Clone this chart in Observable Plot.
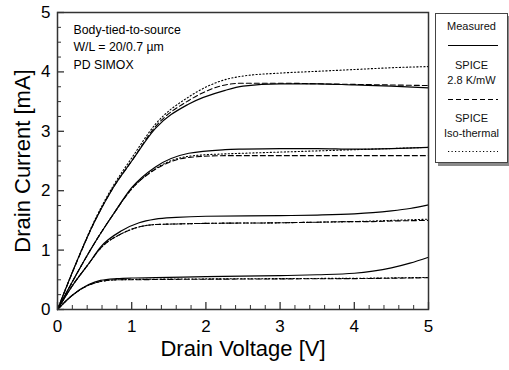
<!DOCTYPE html>
<html><head><meta charset="utf-8">
<script src="https://cdn.jsdelivr.net/npm/d3@7"></script>
<script src="https://cdn.jsdelivr.net/npm/@observablehq/plot@0.6"></script>
<style>
html,body{margin:0;padding:0;background:#fff;}
#wrap{position:relative;width:509px;height:370px;font-family:"Liberation Sans",Arial,sans-serif;}
#legend{position:absolute;left:435px;top:13px;width:71px;height:148px;border:1px solid #444;background:#fff;box-shadow:3px 3px 0 #8a8a8a;font-size:11px;text-align:center;color:#111;}
#legend div{position:absolute;left:0;width:100%;line-height:15px;}
#legend svg{position:absolute;left:12px;}
</style></head>
<body><div id="wrap"></div>
<script>
// tick labels
const xTicks = [0, 1, 2, 3, 4, 5];
const xMinorTicks = [0.2, 0.4, 0.6, 0.8, 1.2, 1.4, 1.6, 1.8, 2.2, 2.4, 2.6, 2.8, 3.2, 3.4, 3.6, 3.8, 4.2, 4.4, 4.6, 4.8];
const yTicks = [0, 1, 2, 3, 4, 5];
const yMinorTicks = [0.25, 0.5, 0.75, 1.25, 1.5, 1.75, 2.25, 2.5, 2.75, 3.25, 3.5, 3.75, 4.25, 4.5, 4.75];
const annotation = ["Body-tied-to-source", "W/L = 20/0.7 \u00b5m", "PD SIMOX"];
const seriesNames = ["Measured", "SPICE 2.8 K/mW", "SPICE Iso-thermal"];

// curve 1 (highest gate voltage)
const v1 = [0, 0.25, 0.5, 0.75, 1, 1.32, 1.77, 2.26, 2.5, 3, 3.5, 4, 4.5, 5];
const meas1 = [0, 0.78, 1.48, 2.05, 2.5, 3.05, 3.46, 3.69, 3.76, 3.80, 3.80, 3.78, 3.76, 3.73];
const hot1 = [0, 0.77, 1.48, 2.05, 2.5, 3.08, 3.52, 3.78, 3.81, 3.81, 3.80, 3.79, 3.78, 3.77];
const iso1 = [0, 0.78, 1.50, 2.08, 2.55, 3.12, 3.58, 3.87, 3.93, 3.98, 4.01, 4.04, 4.07, 4.09];
// curve 2
const v2 = [0, 0.25, 0.5, 0.75, 1, 1.32, 1.77, 2.26, 2.5, 3, 3.5, 4, 4.5, 5];
const meas2 = [0, 0.58, 1.12, 1.6, 2.05, 2.4, 2.63, 2.69, 2.70, 2.71, 2.71, 2.70, 2.71, 2.73];
const hot2 = [0, 0.58, 1.12, 1.6, 2.03, 2.36, 2.56, 2.59, 2.59, 2.59, 2.59, 2.59, 2.59, 2.59];
const iso2 = [0, 0.58, 1.12, 1.6, 2.03, 2.37, 2.58, 2.62, 2.63, 2.65, 2.67, 2.69, 2.71, 2.73];
// curve 3
const v3 = [0, 0.2, 0.42, 0.58, 0.87, 1.1, 1.32, 1.6, 2, 3, 3.5, 4, 4.25, 4.5, 4.75, 5];
const meas3 = [0, 0.4, 0.77, 1.05, 1.33, 1.46, 1.52, 1.55, 1.57, 1.58, 1.59, 1.61, 1.63, 1.66, 1.70, 1.76];
const hot3 = [0, 0.4, 0.77, 1.03, 1.28, 1.39, 1.43, 1.44, 1.45, 1.46, 1.47, 1.48, 1.48, 1.49, 1.495, 1.50];
const iso3 = [0, 0.4, 0.77, 1.03, 1.28, 1.39, 1.43, 1.44, 1.45, 1.46, 1.47, 1.48, 1.49, 1.50, 1.51, 1.52];
// curve 4 (lowest gate voltage)
const v4 = [0, 0.2, 0.42, 0.58, 0.8, 1, 1.32, 2, 3, 3.5, 4, 4.25, 4.5, 4.75, 5];
const meas4 = [0, 0.24, 0.42, 0.49, 0.52, 0.53, 0.535, 0.555, 0.57, 0.585, 0.61, 0.645, 0.70, 0.78, 0.88];
const hot4 = [0, 0.24, 0.41, 0.47, 0.5, 0.5, 0.505, 0.51, 0.515, 0.518, 0.52, 0.523, 0.527, 0.531, 0.535];
const iso4 = [0, 0.24, 0.41, 0.47, 0.5, 0.505, 0.51, 0.515, 0.52, 0.523, 0.525, 0.528, 0.532, 0.536, 0.54];

const curves = [
  [v1, meas1, hot1, iso1], [v2, meas2, hot2, iso2], [v3, meas3, hot3, iso3], [v4, meas4, hot4, iso4]
];
const rows = [];
curves.forEach(([v, m, h, s], ci) => {
  [m, h, s].forEach((arr, si) => {
    arr.forEach((y, i) => rows.push({curve: ci, series: seriesNames[si], key: ci + "-" + si, x: v[i], y}));
  });
});
const dashes = {"Measured": null, "SPICE 2.8 K/mW": "5,3", "SPICE Iso-thermal": "1.2,2.3"};

const lineMarks = seriesNames.map(name => Plot.line(rows.filter(d => d.series === name), {
  x: "x", y: "y", z: "key", curve: "monotone-x", stroke: "#000",
  strokeWidth: name === "Measured" ? 1.2 : 1.1,
  strokeDasharray: dashes[name]
}));

const fmt = d => String(d);
const chart = Plot.plot({
  width: 509, height: 370,
  marginLeft: 57, marginRight: 81, marginTop: 12, marginBottom: 61,
  style: {fontFamily: "'Liberation Sans', Arial, sans-serif", fontSize: "17px", background: "#fff", color: "#000"},
  x: {domain: [0, 5]},
  y: {domain: [0, 5]},
  marks: [
    ...lineMarks,
    Plot.frame({stroke: "#333", strokeWidth: 1.5}),
    Plot.axisX({ticks: xMinorTicks, tickSize: -4, text: null, label: null, stroke: "#333"}),
    Plot.axisX({ticks: xTicks, tickSize: -7, text: null, label: null, stroke: "#333", strokeWidth: 1.3}),
    Plot.axisX({ticks: xTicks, tickSize: 0, tickPadding: 10, tickFormat: fmt, label: null, fontSize: 17}),
    Plot.axisY({ticks: yMinorTicks, tickSize: -4, text: null, label: null, stroke: "#333"}),
    Plot.axisY({ticks: yTicks, tickSize: -7, text: null, label: null, stroke: "#333", strokeWidth: 1.3}),
    Plot.axisY({ticks: yTicks, tickSize: 0, tickPadding: 7, tickFormat: fmt, label: null, fontSize: 17}),
    Plot.text(["Drain Voltage [V]"], {frameAnchor: "bottom", dy: 46, textAnchor: "middle", fontSize: 22, text: d => d}),
    Plot.text(["Drain Current [mA]"], {frameAnchor: "left", dx: -35, rotate: -90, textAnchor: "middle", fontSize: 22, text: d => d}),
    Plot.text([annotation.join("\n")], {frameAnchor: "top-left", dx: 16, dy: 9, lineAnchor: "top", textAnchor: "start", lineHeight: 1.42, fontSize: 12.3, text: d => d})
  ]
});
const wrap = document.getElementById("wrap");
wrap.appendChild(chart);

// legend
const legend = document.createElement("div");
legend.id = "legend";
const legendItems = [
  {lines: ["Measured"], top: 5, lineTop: 30, dash: null},
  {lines: ["SPICE", "2.8 K/mW"], top: 44, lineTop: 84, dash: "5,3"},
  {lines: ["SPICE", "Iso-thermal"], top: 97, lineTop: 136, dash: "1.2,2.3"}
];
legendItems.forEach(it => {
  const t = document.createElement("div");
  t.style.top = it.top + "px";
  t.innerHTML = it.lines.join("<br>");
  legend.appendChild(t);
  const svg = d3.create("svg").attr("width", 50).attr("height", 3).style("top", it.lineTop + "px");
  svg.append("line").attr("x1", 0).attr("x2", 50).attr("y1", 1.5).attr("y2", 1.5)
    .attr("stroke", "#000").attr("stroke-width", 1.1).attr("stroke-dasharray", it.dash);
  legend.appendChild(svg.node());
});
wrap.appendChild(legend);
</script></body></html>
